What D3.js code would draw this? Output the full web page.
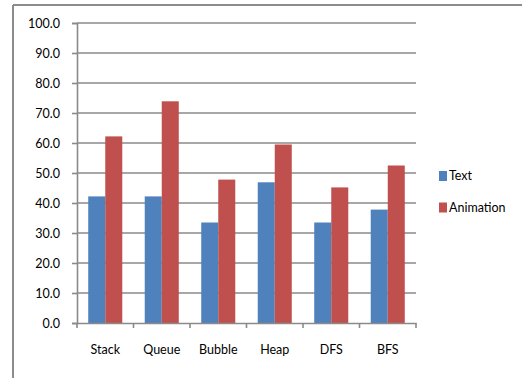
<!DOCTYPE html>
<html>
<head>
<meta charset="utf-8">
<script src="https://cdn.jsdelivr.net/npm/d3@7"></script>
<style>
  html, body { margin: 0; padding: 0; background: #fff; }
  svg { display: block; }
  text { font-family: Lato, "Open Sans", sans-serif; fill: #000; }
</style>
</head>
<body>
<svg id="chart" width="522" height="378"></svg>
<script>
// Study results by data structure / algorithm
const categories = ["Stack", "Queue", "Bubble", "Heap", "DFS", "BFS"];
const seriesNames = ["Text", "Animation"];
const textValues = [42.2, 42.2, 33.5, 46.9, 33.5, 37.8];
const animationValues = [62.2, 73.9, 47.8, 59.5, 45.2, 52.5];
const yTicks = [0, 10, 20, 30, 40, 50, 60, 70, 80, 90, 100];
const colors = ["#4F81BD", "#C0504D"];

const series = [textValues, animationValues];
const svg = d3.select("#chart");
const fontSize = 12.5;

// Frame lines of the chart area
svg.append("line").attr("x1", 13).attr("x2", 522).attr("y1", 5).attr("y2", 5)
  .attr("stroke", "#8c8c8c").attr("stroke-width", 2);
svg.append("line").attr("x1", 13).attr("x2", 13).attr("y1", 5).attr("y2", 378)
  .attr("stroke", "#8c8c8c").attr("stroke-width", 2);

const plot = { left: 77, right: 416, top: 23, bottom: 323 };

const x = d3.scaleBand().domain(categories).range([plot.left, plot.right]).paddingInner(0).paddingOuter(0);
const xs = d3.scaleBand().domain(d3.range(series.length)).range([0, x.bandwidth()]).paddingInner(0).paddingOuter(0.66);
const y = d3.scaleLinear().domain([0, 100]).range([plot.bottom, plot.top]);

// Horizontal gridlines
svg.append("g").selectAll("line").data(yTicks.filter(d => d > 0)).join("line")
  .attr("x1", plot.left).attr("x2", plot.right)
  .attr("y1", d => y(d)).attr("y2", d => y(d))
  .attr("stroke", "#8a8a8a").attr("stroke-width", 1.6);

// Bars
categories.forEach((c, i) => {
  series.forEach((vals, s) => {
    svg.append("rect")
      .attr("x", x(c) + xs(s))
      .attr("y", y(vals[i]))
      .attr("width", xs.bandwidth())
      .attr("height", y(0) - y(vals[i]))
      .attr("fill", colors[s]);
  });
});

// Y axis
const yAxis = svg.append("g").attr("transform", `translate(${plot.left},0)`)
  .call(d3.axisLeft(y).tickValues(yTicks).tickFormat(d3.format(".1f")).tickSize(5).tickPadding(12));
yAxis.select(".domain").attr("stroke", "#8a8a8a").attr("stroke-width", 1.6);
yAxis.selectAll(".tick line").attr("stroke", "#8a8a8a").attr("stroke-width", 1.6);
yAxis.selectAll("text").attr("font-size", fontSize).attr("font-family", "Lato, sans-serif").attr("fill", "#000");

// X axis
const xAxis = svg.append("g").attr("transform", `translate(0,${plot.bottom})`)
  .call(d3.axisBottom(x).tickSize(0).tickPadding(22));
xAxis.select(".domain").attr("stroke", "#8a8a8a").attr("stroke-width", 1.6);
xAxis.selectAll("text").attr("font-size", fontSize).attr("font-family", "Lato, sans-serif").attr("fill", "#000");
// Boundary ticks between categories
const bounds = categories.map(c => x(c)).concat([plot.right]);
xAxis.append("g").selectAll("line").data(bounds).join("line")
  .attr("x1", d => d).attr("x2", d => d).attr("y1", 0).attr("y2", 5)
  .attr("stroke", "#8a8a8a").attr("stroke-width", 1.6);

// Legend
const legend = svg.append("g").attr("transform", "translate(439,171)");
seriesNames.forEach((n, i) => {
  const g = legend.append("g").attr("transform", `translate(0,${i * 31.5})`);
  g.append("rect").attr("width", 8).attr("height", 10).attr("fill", colors[i]);
  g.append("text").attr("x", 10).attr("y", 5).attr("dy", "0.35em")
    .attr("font-size", fontSize).text(n);
});
</script>
</body>
</html>
